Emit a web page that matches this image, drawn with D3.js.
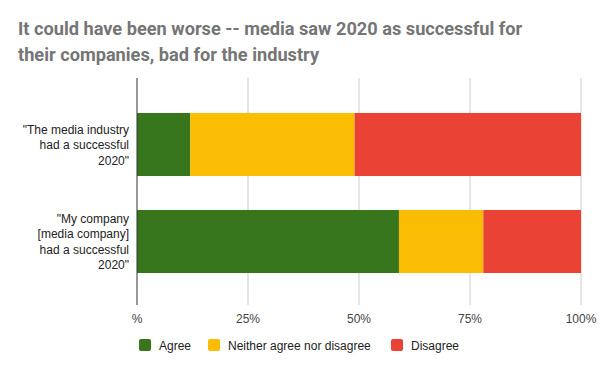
<!DOCTYPE html>
<html>
<head>
<meta charset="utf-8">
<script src="https://cdn.jsdelivr.net/npm/d3@7"></script>
<style>
  html, body { margin: 0; padding: 0; background: #fff; }
  svg { display: block; }
</style>
</head>
<body>
<script>
const categories = [
  ["\"The media industry", "had a successful", "2020\""],
  ["\"My company", "[media company]", "had a successful", "2020\""]
];
const categoryKeys = ["industry", "company"];
const seriesNames = ["Agree", "Neither agree nor disagree", "Disagree"];
const agree = [12, 59];
const neither = [37, 19];
const disagree = [51, 22];
const tickValues = [0, 25, 50, 75, 100];
const tickLabels = ["%", "25%", "50%", "75%", "100%"];
const colors = ["#38761d", "#fbbc04", "#ea4335"];

const W = 600, H = 371;
const svg = d3.select("body").append("svg").attr("width", W).attr("height", H);

svg.append("text").attr("x", 18).attr("y", 35)
  .attr("font-family", "Roboto").attr("font-weight", "bold").attr("font-size", 18.2)
  .attr("fill", "#757575").text("It could have been worse -- media saw 2020 as successful for");
svg.append("text").attr("x", 18).attr("y", 60.5)
  .attr("font-family", "Roboto").attr("font-weight", "bold").attr("font-size", 18.2)
  .attr("fill", "#757575").text("their companies, bad for the industry");

const x = d3.scaleLinear().domain([0, 100]).range([137, 581]);
const y = d3.scaleBand().domain(categoryKeys).range([96, 290]).paddingInner(0.35).paddingOuter(0.175);

const gridTop = 78, gridBottom = 305;
svg.append("g").selectAll("line").data(tickValues.slice(1)).join("line")
  .attr("x1", d => x(d)).attr("x2", d => x(d))
  .attr("y1", gridTop).attr("y2", gridBottom)
  .attr("stroke", "#cccccc").attr("stroke-width", 1);

const rows = categoryKeys.map((k, i) => ({key: k, Agree: agree[i], "Neither agree nor disagree": neither[i], Disagree: disagree[i]}));
const stack = d3.stack().keys(seriesNames)(rows);

svg.append("g").selectAll("g").data(stack).join("g")
  .attr("fill", (d, i) => colors[i])
  .selectAll("rect").data(d => d).join("rect")
  .attr("x", d => x(d[0]))
  .attr("width", d => x(d[1]) - x(d[0]))
  .attr("y", d => y(d.data.key))
  .attr("height", y.bandwidth());

svg.append("line").attr("x1", x(0)).attr("x2", x(0))
  .attr("y1", gridTop).attr("y2", gridBottom)
  .attr("stroke", "#333333").attr("stroke-width", 1);

svg.append("g").selectAll("text").data(tickValues).join("text")
  .attr("x", d => x(d)).attr("y", 323)
  .attr("text-anchor", "middle")
  .attr("font-family", "Liberation Sans, Arial, sans-serif").attr("font-size", 12)
  .attr("fill", "#444444")
  .text((d, i) => tickLabels[i]);

const lh = 15.5;
categoryKeys.forEach((k, i) => {
  const lines = categories[i];
  const cy = y(k) + y.bandwidth() / 2;
  const t = svg.append("text")
    .attr("text-anchor", "end")
    .attr("font-family", "Liberation Sans, Arial, sans-serif").attr("font-size", 12)
    .attr("fill", "#222222");
  lines.forEach((ln, j) => {
    t.append("tspan").attr("x", 129)
      .attr("y", cy + (j - (lines.length - 1) / 2) * lh + 4.5)
      .text(ln);
  });
});

const legendX = [139, 208, 391];
const lg = svg.append("g");
seriesNames.forEach((s, i) => {
  lg.append("rect").attr("x", legendX[i]).attr("y", 339).attr("width", 12).attr("height", 12)
    .attr("rx", 2).attr("fill", colors[i]);
  lg.append("text").attr("x", legendX[i] + 20).attr("y", 349.5)
    .attr("font-family", "Liberation Sans, Arial, sans-serif").attr("font-size", 12)
    .attr("fill", "#222222").text(s);
});
</script>
</body>
</html>
